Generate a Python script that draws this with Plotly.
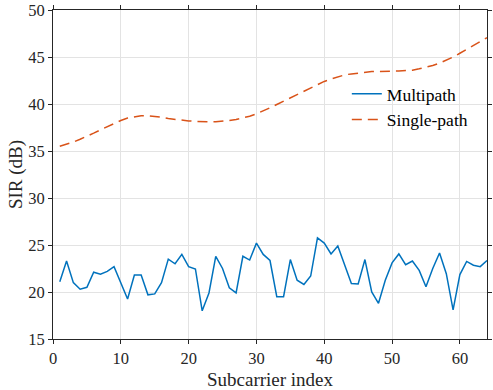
import plotly.graph_objects as go

subcarrier = list(range(1, 65))
multipath = [21.1, 23.3, 21.0, 20.3, 20.5, 22.1, 21.9, 22.2, 22.7, 21.0,
             19.25, 21.8, 21.8, 19.7, 19.8, 21.0, 23.5, 23.0, 24.0, 22.7,
             22.45, 18.0, 19.9, 23.8, 22.5, 20.45, 19.9, 23.8, 23.4, 25.2,
             24.0, 23.35, 19.5, 19.5, 23.45, 21.25, 20.8, 21.7, 25.75, 25.2,
             24.05, 24.9, 22.9, 20.9, 20.85, 23.45, 20.0, 18.8, 21.25, 23.1,
             24.05, 22.9, 23.3, 22.3, 20.55, 22.5, 24.15, 21.95, 18.1, 21.85,
             23.25, 22.85, 22.7, 23.35]
single_path = [35.5, 35.7, 35.95, 36.25, 36.55, 36.9, 37.25, 37.6, 37.95, 38.25,
               38.5, 38.65, 38.75, 38.75, 38.7, 38.6, 38.45, 38.35, 38.25, 38.2,
               38.15, 38.1, 38.1, 38.1, 38.15, 38.25, 38.35, 38.5, 38.7, 38.95,
               39.25, 39.6, 39.95, 40.3, 40.7, 41.05, 41.4, 41.75, 42.1, 42.4,
               42.65, 42.9, 43.1, 43.2, 43.3, 43.4, 43.45, 43.45, 43.5, 43.5,
               43.5, 43.55, 43.6, 43.75, 43.9, 44.1, 44.35, 44.65, 45.0, 45.4,
               45.8, 46.2, 46.6, 47.05]
x_ticks = [0, 10, 20, 30, 40, 50, 60]
y_ticks = [15, 20, 25, 30, 35, 40, 45, 50]

font_family = "Liberation Serif"
axis_color = "#262626"

fig = go.Figure()
fig.add_trace(go.Scatter(x=subcarrier, y=multipath, mode="lines", name="Multipath",
                         line=dict(color="#0072BD", width=1.5)))
fig.add_trace(go.Scatter(x=subcarrier, y=single_path, mode="lines", name="Single-path",
                         line=dict(color="#D95319", width=1.5, dash="10px,6px")))

axis_common = dict(showline=True, linecolor=axis_color, linewidth=1, mirror="ticks",
                   ticks="outside", ticklen=4, tickcolor=axis_color, automargin=False,
                   showgrid=True, gridcolor="#e3e3e3", gridwidth=1, zeroline=False,
                   tickfont=dict(family=font_family, size=16.5, color=axis_color))

fig.update_layout(
    width=493, height=390,
    margin=dict(l=53, r=6, t=10, b=51),
    plot_bgcolor="white", paper_bgcolor="white",
    font=dict(family=font_family, size=17, color=axis_color),
    xaxis=dict(range=[0, 64], tickvals=x_ticks,
               title=dict(text="Subcarrier index", font=dict(family=font_family, size=19), standoff=5),
               **axis_common),
    yaxis=dict(range=[15, 50], tickvals=y_ticks,
               title=dict(text="SIR (dB)", font=dict(family=font_family, size=19), standoff=0),
               **axis_common),
    legend=dict(x=0.677, y=0.80, xanchor="left", yanchor="top", bgcolor="rgba(0,0,0,0)",
                font=dict(family=font_family, size=17.5, color="#000000"), itemwidth=30,
                tracegroupgap=0),
    showlegend=True,
)

fig.write_html("out.html", config={"displayModeBar": False},
               post_script="document.body.style.margin='0';document.body.style.padding='0';")
